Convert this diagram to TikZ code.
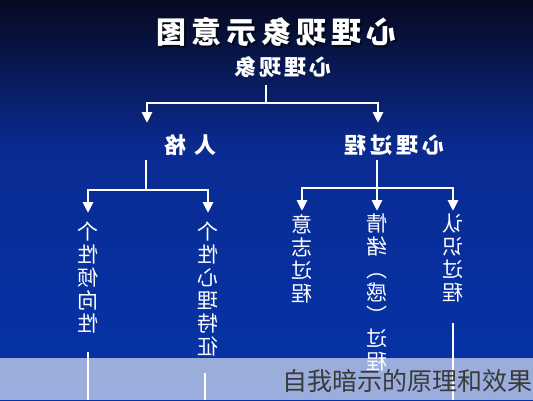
\documentclass[tikz,border=0pt]{standalone}
\usepackage{fontspec}
\usepackage{xcolor}
\usepackage{tikz}
\usetikzlibrary{arrows.meta}
\newfontfamily\cjk{Noto Sans CJK SC}
\definecolor{navytop}{HTML}{070920}
\definecolor{navymid}{HTML}{0A2B92}
\definecolor{navybot}{HTML}{0534AA}
\definecolor{capgray}{HTML}{3A3A3A}
\tikzset{
	mirror/.style={xscale=-1},
	headtxt/.style={mirror,text=white,font=\cjk\bfseries\fontsize{22}{22}\selectfont,inner sep=0pt},
	coltxt/.style={mirror,text=white,font=\cjk\fontsize{21}{23}\selectfont,align=center,inner sep=0pt,anchor=north},
	link/.style={white,line width=2.8pt},
	arr/.style={link,-{Triangle[width=10pt,length=11pt]}}
}
\begin{document}
\begin{tikzpicture}[x=1pt,y=-1pt]
			\useasboundingbox (0,0) rectangle (533,400);
			\shade[top color=navytop,bottom color=navymid] (0,0) rectangle (533,150);
			\shade[top color=navymid,bottom color=navybot] (0,150) rectangle (533,400);
			% title
			\node[headtxt,text=black,opacity=0.6,font=\cjk\bfseries\fontsize{30}{30}\selectfont] at (278,34) {心\hspace{5pt}理\hspace{5pt}现\hspace{5pt}象\hspace{5pt}示\hspace{5pt}意\hspace{5pt}图};
			\node[headtxt,font=\cjk\bfseries\fontsize{30}{30}\selectfont] (title) at (276,32) {心\hspace{5pt}理\hspace{5pt}现\hspace{5pt}象\hspace{5pt}示\hspace{5pt}意\hspace{5pt}图};
			\node[headtxt] (phen) at (283,67) {心\hspace{3pt}理\hspace{3pt}现\hspace{3pt}象};
			\node[headtxt] (pers) at (190,145) {人\hspace{8pt}格};
			\node[headtxt] (proc) at (394,145) {心\hspace{4pt}理\hspace{4pt}过\hspace{4pt}程};
			\node[coltxt] (tend) at (88,222) {个\\性\\倾\\向\\性};
			\node[coltxt] (trait) at (208,222) {个\\性\\心\\理\\特\\征};
			\node[coltxt] (will) at (302,214) {意\\志\\过\\程};
			\node[coltxt] (emo) at (377,214) {情\\绪\\︵\\感\\︶\\过\\程};
			\node[coltxt] (cogn) at (453,214) {认\\识\\过\\程};
			% junctions
			\coordinate (s0) at (266,85);
			\coordinate (j0) at (266,103);
			\coordinate (a1) at (147,123);
			\coordinate (a2) at (378,123);
			\coordinate (s1) at (146,160);
			\coordinate (j1) at (146,190);
			\coordinate (s2) at (377,160);
			\coordinate (j2) at (377,188);
			\coordinate (t1) at (88,352);
			\coordinate (t2) at (205,373);
			\coordinate (t3) at (453,323);
			\coordinate (e1) at (88,400);
			\coordinate (e2) at (205,400);
			\coordinate (e3) at (453,400);
			\draw[link] (s0) -- (j0);
			\draw[arr] (j0) -| (a1);
			\draw[arr] (j0) -| (a2);
			\draw[link] (s1) -- (j1);
			\draw[arr] (j1) -| ([yshift=9pt]tend.north);
			\draw[arr] (j1) -| ([yshift=9pt]trait.north);
			\draw[link] (s2) -- (j2);
			\draw[arr] (j2) -| ([yshift=3pt]will.north);
			\draw[arr] (j2) -- ([yshift=3pt]emo.north);
			\draw[arr] (j2) -| ([yshift=3pt]cogn.north);
			\draw[link] (t1) -- (e1);
			\draw[link] (t2) -- (e2);
			\draw[link] (t3) -- (e3);
			% caption band
			\fill[white,opacity=0.6] (0,358) rectangle (533,400);
			\node[anchor=east,text=capgray,font=\cjk\fontsize{25}{25}\selectfont,inner sep=0pt] (cap) at (533,381) {自我暗示的原理和效果};
\end{tikzpicture}
\end{document}
